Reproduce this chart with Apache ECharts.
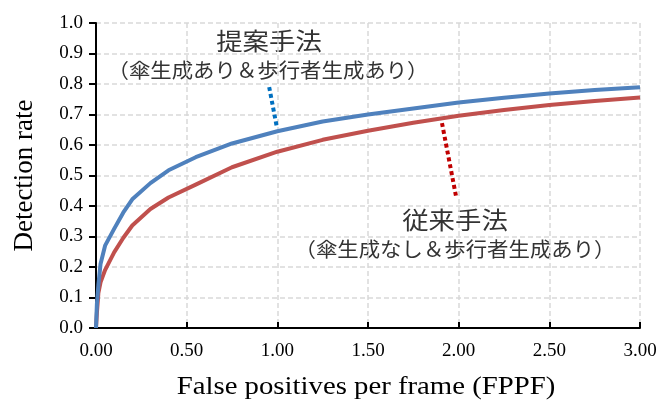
<!DOCTYPE html>
<html>
<head>
<meta charset="utf-8">
<script src="https://cdn.jsdelivr.net/npm/echarts@6/dist/echarts.min.js"></script>
<style>html,body{margin:0;padding:0;background:#fff;}#c{width:661px;height:401px;}</style>
</head>
<body>
<div id="c"></div>
<script>
const fppf = [0, 0.005, 0.013, 0.025, 0.05, 0.1, 0.15, 0.2, 0.3, 0.4, 0.55, 0.75, 1.0, 1.25, 1.5, 1.75, 2.0, 2.25, 2.5, 2.75, 3.0];
const proposed = [0, 0.08, 0.14, 0.21, 0.27, 0.325, 0.378, 0.422, 0.475, 0.517, 0.56, 0.605, 0.645, 0.677, 0.70, 0.72, 0.739, 0.755, 0.769, 0.78, 0.789];
const conventional = [0, 0.05, 0.114, 0.15, 0.19, 0.248, 0.295, 0.336, 0.39, 0.428, 0.47, 0.527, 0.578, 0.617, 0.647, 0.673, 0.696, 0.715, 0.731, 0.744, 0.756];
const xTicks = ['0.00','0.50','1.00','1.50','2.00','2.50','3.00'];
const yTicks = ['0.0','0.1','0.2','0.3','0.4','0.5','0.6','0.7','0.8','0.9','1.0'];
const xTitle = 'False positives per frame (FPPF)';
const yTitle = 'Detection rate';
const proposedName = '提案手法';
const proposedSub = '（傘生成あり＆歩行者生成あり）';
const convName = '従来手法';
const convSub = '（傘生成なし＆歩行者生成あり）';
const proposedPointer = [[0.955, 0.79], [0.998, 0.656]];
const convPointer = [[1.908, 0.672], [1.986, 0.43]];

const serif = '"Liberation Serif", "Times New Roman", serif';
const jp = '"Noto Sans CJK JP", sans-serif';
const pair = (xs, ys) => xs.map((x, i) => [x, ys[i]]);

const chart = echarts.init(document.getElementById('c'));
const gridLine = {show: true, lineStyle: {color: '#d9d9d9', type: [5, 3], width: 1.5}};
chart.setOption({
  animation: false,
  grid: {left: 96, right: 21, top: 23, bottom: 73},
  xAxis: {
    type: 'value', min: 0, max: 3, interval: 0.5,
    axisLine: {show: true, onZero: false, lineStyle: {color: '#000', width: 2}},
    axisTick: {show: true, inside: true, length: 6, lineStyle: {color: '#000', width: 2}},
    axisLabel: {fontFamily: serif, fontSize: 19, color: '#000', margin: 14,
      formatter: (v) => xTicks[Math.round(v / 0.5)]},
    splitLine: gridLine
  },
  yAxis: {
    type: 'value', min: 0, max: 1, interval: 0.1,
    name: yTitle, nameLocation: 'middle', nameGap: 58, nameRotate: 90,
    nameTextStyle: {fontFamily: serif, fontSize: 27, color: '#000'},
    axisLine: {show: true, lineStyle: {color: '#000', width: 2}},
    axisTick: {show: true, inside: false, length: 7, lineStyle: {color: '#000', width: 2}},
    axisLabel: {fontFamily: serif, fontSize: 19, color: '#000', margin: 13,
      formatter: (v) => yTicks[Math.round(v / 0.1)]},
    splitLine: gridLine
  },
  series: [
    {
      name: proposedName, type: 'line', data: pair(fppf, proposed), showSymbol: false, symbol: 'none',
      lineStyle: {color: '#4F81BD', width: 4, join: 'round'}, z: 3,
      markLine: {silent: true, symbol: 'none', label: {show: false},
        lineStyle: {color: '#0070C0', width: 4, type: [4, 3]},
        data: [[{coord: proposedPointer[0]}, {coord: proposedPointer[1]}]]}
    },
    {
      name: convName, type: 'line', data: pair(fppf, conventional), showSymbol: false, symbol: 'none',
      lineStyle: {color: '#C0504D', width: 4, join: 'round'}, z: 2,
      markLine: {silent: true, symbol: 'none', label: {show: false},
        lineStyle: {color: '#C00000', width: 4, type: [4, 3]},
        data: [[{coord: convPointer[0]}, {coord: convPointer[1]}]]}
    }
  ],
  graphic: [
    {type: 'text', x: 366, y: 387, scaleX: 1.15, style: {text: xTitle, font: '25px ' + serif, fill: '#000', align: 'center', verticalAlign: 'middle'}},
    {type: 'text', x: 269, y: 41, scaleX: 1.1, style: {text: proposedName, font: '24px ' + jp, fill: '#333', align: 'center', verticalAlign: 'middle'}},
    {type: 'text', x: 268, y: 70, scaleX: 1.07, style: {text: proposedSub, font: '20px ' + jp, fill: '#333', align: 'center', verticalAlign: 'middle'}},
    {type: 'text', x: 455, y: 220, scaleX: 1.1, style: {text: convName, font: '24px ' + jp, fill: '#333', align: 'center', verticalAlign: 'middle'}},
    {type: 'text', x: 455, y: 249, scaleX: 1.07, style: {text: convSub, font: '20px ' + jp, fill: '#333', align: 'center', verticalAlign: 'middle'}}
  ]
});
</script>
</body>
</html>
